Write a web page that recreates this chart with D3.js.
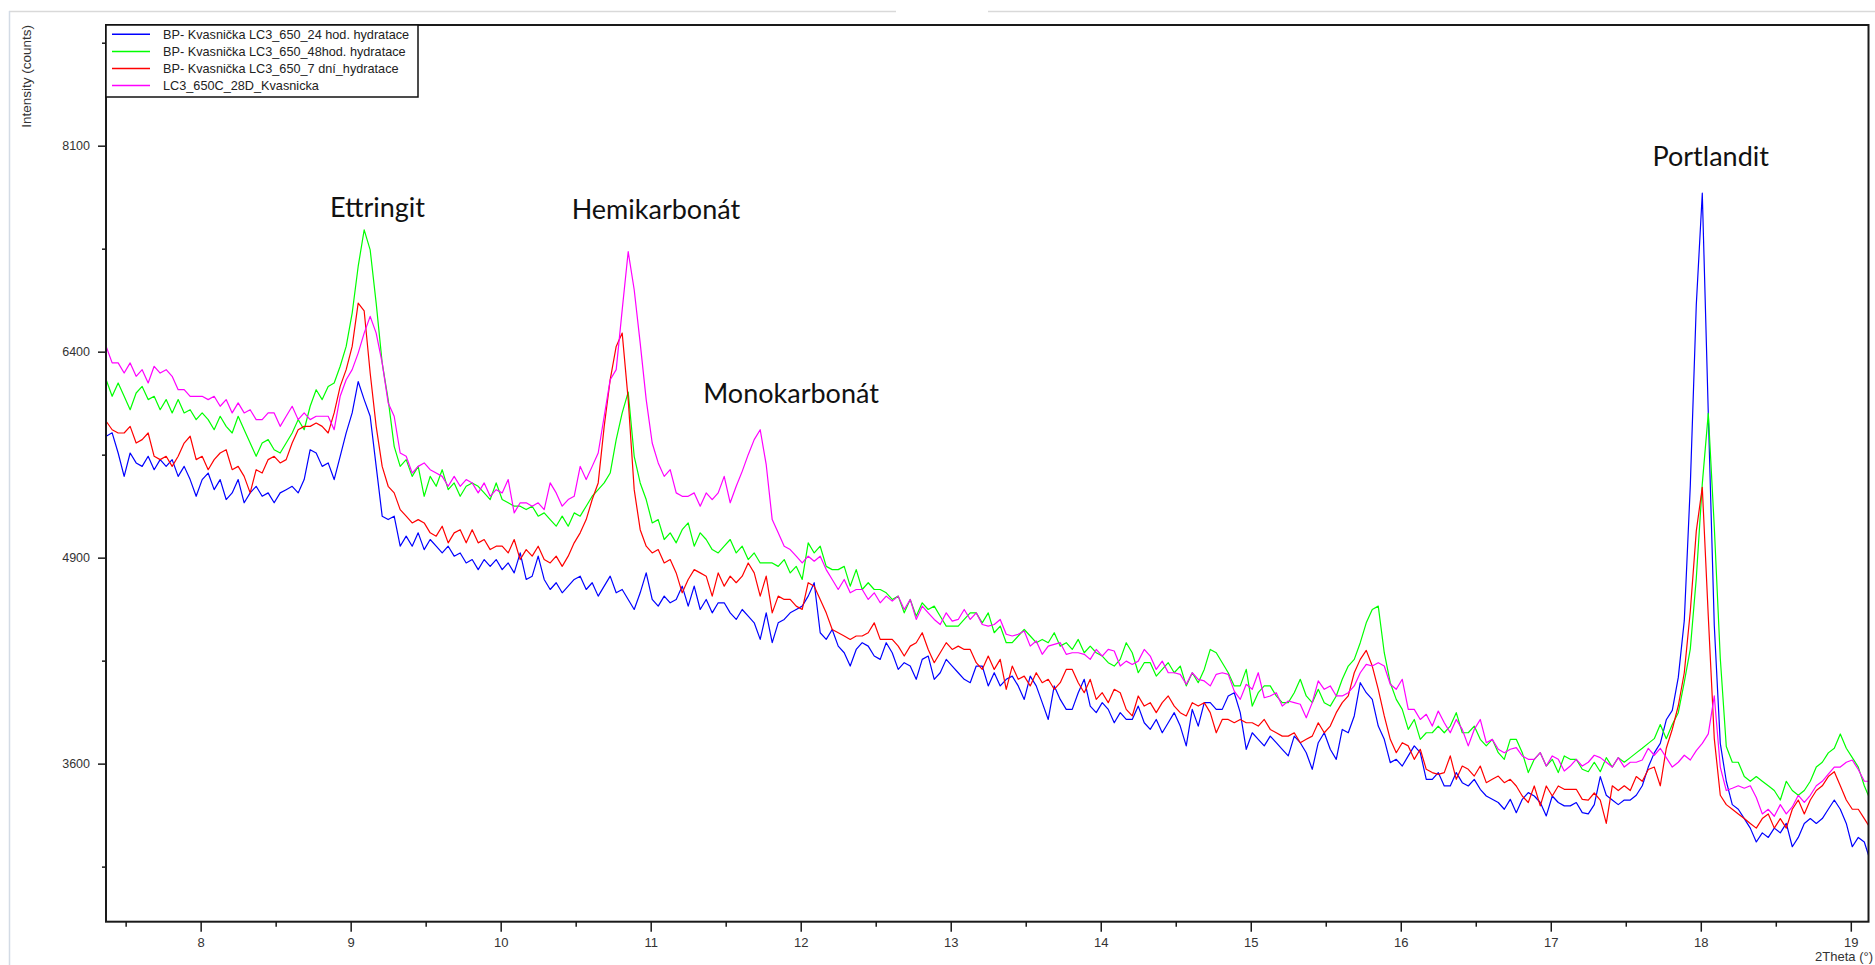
<!DOCTYPE html>
<html>
<head>
<meta charset="utf-8">
<script src="https://cdn.jsdelivr.net/npm/d3@7"></script>
<style>
  html, body { margin: 0; padding: 0; background: #ffffff; }
  svg { display: block; }
</style>
</head>
<body>
<svg id="chart" width="1875" height="965"></svg>
<script>
// XRD scans: first 2θ point and scan step (degrees)
const scanStart = 7.37;
const scanStep = 0.04;

const seriesNames = [
  "BP- Kvasnička LC3_650_24 hod. hydratace",
  "BP- Kvasnička LC3_650_48hod. hydratace",
  "BP- Kvasnička LC3_650_7 dní_hydratace",
  "LC3_650C_28D_Kvasnicka"
];

// Intensity (counts), one value per scan step
const counts24h = [
  5760,5785,5637,5468,5637,5565,5540,5613,5516,5589,
  5540,5589,5468,5540,5445,5326,5445,5492,5373,5445,
  5303,5350,5445,5280,5350,5397,5326,5350,5280,5350,
  5373,5397,5350,5445,5661,5637,5540,5565,5445,5613,
  5785,5933,6170,6033,5908,5540,5186,5162,5186,4978,
  5047,4978,5070,4955,5024,4978,4932,4978,4910,4932,
  4864,4887,4819,4887,4841,4887,4819,4864,4797,4932,
  4753,4775,4910,4753,4686,4731,4664,4708,4753,4775,
  4686,4731,4642,4708,4775,4664,4686,4620,4554,4664,
  4797,4620,4576,4642,4598,4620,4708,4576,4708,4554,
  4620,4532,4598,4598,4532,4489,4554,4510,4467,4360,
  4532,4339,4467,4489,4532,4554,4576,4642,4731,4403,
  4360,4424,4317,4275,4191,4296,4339,4317,4254,4233,
  4339,4275,4170,4212,4191,4108,4233,4254,4108,4149,
  4233,4191,4149,4108,4087,4191,4191,4067,4149,4067,
  4108,4128,4067,3984,4128,4067,3964,3862,4067,3984,
  3923,3923,4025,4108,3943,3903,3964,3923,3842,3903,
  3862,3862,3943,3842,3802,3862,3782,3842,3903,3822,
  3704,3923,3822,3964,3964,3923,3923,4005,4025,3903,
  3684,3782,3743,3704,3762,3723,3684,3645,3762,3723,
  3664,3567,3723,3782,3684,3625,3802,3782,3883,4087,
  4025,3984,3822,3743,3606,3625,3586,3645,3704,3664,
  3509,3509,3548,3471,3471,3548,3490,3471,3509,3452,
  3414,3395,3377,3339,3395,3320,3395,3433,3414,3377,
  3302,3414,3377,3358,3358,3377,3320,3313,3365,3525,
  3418,3391,3365,3391,3391,3418,3472,3580,3663,3719,
  3860,3917,4120,4481,5400,6767,7690,5930,4450,3719,
  3498,3365,3339,3287,3234,3158,3208,3183,3234,3208,
  3260,3132,3183,3260,3287,3260,3287,3339,3391,3339,
  3260,3132,3183,3158,3056
];

const counts48h = [
  6184,6058,6159,6058,5957,6083,6133,6033,6058,5957,
  6033,5933,6033,5933,5957,5883,5933,5883,5808,5908,
  5833,5784,5908,5808,5710,5613,5710,5735,5661,5637,
  5710,5784,5883,5808,5983,6108,6033,6133,6159,6287,
  6441,6703,7079,7381,7215,6783,6313,6033,5686,5540,
  5589,5468,5540,5326,5468,5397,5516,5373,5421,5326,
  5397,5421,5397,5350,5303,5421,5303,5280,5256,5256,
  5232,5256,5186,5209,5162,5116,5186,5116,5209,5186,
  5256,5326,5373,5421,5492,5735,5933,6090,5613,5421,
  5303,5139,5162,5024,5070,5001,5092,5139,4978,5070,
  5024,4955,4932,4978,5024,4932,4978,4887,4932,4864,
  4864,4864,4841,4887,4797,4841,4753,5001,4932,4978,
  4841,4819,4819,4841,4708,4819,4686,4731,4686,4686,
  4664,4620,4642,4532,4620,4510,4598,4554,4576,4510,
  4446,4446,4446,4489,4532,4532,4467,4532,4403,4446,
  4339,4339,4382,4424,4382,4339,4360,4339,4403,4317,
  4339,4296,4360,4275,4317,4275,4254,4212,4191,4233,
  4339,4275,4149,4212,4212,4128,4170,4212,4149,4191,
  4067,4149,4087,4170,4296,4275,4212,4149,4067,4067,
  4170,3943,4025,4067,4067,4005,3964,3964,4025,4108,
  4005,3964,4046,3964,3943,4005,4108,4191,4233,4339,
  4467,4554,4576,4275,4087,3984,3923,3802,3862,3743,
  3782,3782,3822,3782,3822,3903,3782,3782,3822,3743,
  3704,3743,3664,3625,3743,3743,3664,3548,3625,3664,
  3586,3625,3548,3645,3625,3625,3567,3553,3608,3553,
  3635,3580,3635,3608,3635,3663,3690,3719,3747,3831,
  3747,3831,3903,4091,4298,4760,5414,5930,5110,4240,
  3700,3608,3608,3525,3498,3525,3498,3472,3445,3391,
  3498,3445,3418,3445,3498,3580,3608,3663,3690,3775,
  3690,3635,3580,3472,3391
];

const counts7d = [
  5871,5808,5784,5784,5833,5710,5735,5784,5613,5589,
  5613,5540,5613,5710,5760,5589,5613,5516,5589,5637,
  5661,5516,5540,5468,5350,5516,5492,5589,5613,5565,
  5589,5710,5808,5833,5833,5858,5833,5784,5933,6133,
  6261,6441,6783,6720,6235,5833,5540,5397,5350,5232,
  5186,5139,5162,5139,5070,5047,5116,5001,5070,5092,
  5001,5092,5001,5024,4955,4978,4978,4932,5024,4887,
  4955,4910,4978,4887,4864,4910,4841,4910,5001,5070,
  5162,5303,5421,5833,6184,6441,6545,6033,5373,5092,
  4978,4932,4955,4864,4887,4797,4664,4753,4819,4797,
  4775,4642,4797,4708,4775,4731,4775,4864,4797,4642,
  4775,4532,4642,4620,4620,4576,4554,4731,4708,4620,
  4532,4424,4403,4382,4360,4382,4382,4403,4467,4360,
  4360,4360,4317,4254,4317,4339,4403,4296,4212,4275,
  4339,4296,4317,4296,4296,4212,4170,4254,4170,4233,
  4046,4191,4108,4128,4067,4149,4087,4108,4046,4087,
  4170,4170,4087,4025,4108,3984,4025,3964,4046,4025,
  3923,3883,4005,3943,3964,3903,3964,4005,3943,3903,
  3883,3964,3943,3964,3903,3782,3862,3862,3842,3862,
  3842,3842,3822,3862,3802,3782,3762,3762,3782,3723,
  3743,3762,3842,3782,3822,3903,3964,4005,4149,4233,
  4290,4191,4046,3883,3743,3664,3723,3704,3625,3684,
  3567,3548,3538,3548,3645,3509,3586,3567,3528,3586,
  3490,3509,3528,3490,3509,3471,3414,3377,3471,3358,
  3471,3414,3471,3452,3452,3452,3395,3391,3431,3391,
  3260,3472,3445,3472,3445,3525,3498,3566,3580,3472,
  3690,3803,3945,4149,4541,5082,5390,4510,3747,3418,
  3365,3339,3313,3287,3260,3234,3287,3313,3234,3287,
  3234,3339,3391,3313,3391,3445,3472,3525,3553,3472,
  3391,3339,3339,3287,3234
];

const counts28d = [
  6441,6313,6313,6235,6313,6210,6261,6159,6287,6235,
  6261,6210,6108,6108,6058,6058,6058,6033,6058,5983,
  6033,5933,6008,5933,5957,5883,5883,5933,5933,5833,
  5908,5983,5883,5933,5883,5908,5908,5908,5808,6058,
  6184,6261,6389,6545,6677,6545,6313,6008,5908,5637,
  5613,5492,5540,5565,5516,5492,5468,5397,5468,5397,
  5445,5421,5350,5421,5326,5373,5350,5445,5209,5280,
  5280,5256,5280,5232,5421,5350,5256,5303,5326,5540,
  5445,5540,5637,5908,6184,6261,6729,7200,6890,6467,
  6033,5710,5565,5468,5516,5350,5326,5326,5350,5256,
  5350,5303,5350,5468,5280,5397,5504,5625,5735,5808,
  5552,5162,5070,4978,4955,4910,4864,4910,4876,4910,
  4819,4753,4686,4753,4664,4686,4686,4620,4664,4598,
  4642,4609,4642,4554,4620,4489,4576,4532,4489,4456,
  4532,4478,4489,4554,4489,4532,4456,4446,4456,4489,
  4393,4382,4393,4414,4317,4350,4265,4317,4328,4339,
  4265,4275,4275,4265,4233,4296,4254,4296,4286,4191,
  4222,4201,4222,4296,4254,4170,4222,4149,4149,4139,
  4077,4149,4108,4098,4067,4139,4149,4139,4035,3984,
  4077,4046,4149,3994,4005,4025,3943,3974,3964,3954,
  3872,3964,4098,4046,4067,4005,4005,4025,4067,4149,
  4201,4191,4212,4191,4077,4046,4108,3923,3923,3862,
  3893,3822,3913,3842,3782,3862,3802,3704,3802,3862,
  3723,3743,3684,3664,3684,3694,3645,3625,3625,3664,
  3586,3645,3625,3557,3586,3625,3586,3608,3649,3635,
  3608,3580,3635,3580,3608,3608,3621,3690,3649,3690,
  3635,3580,3608,3649,3621,3676,3719,3775,4005,3580,
  3445,3458,3472,3458,3472,3405,3313,3339,3300,3365,
  3313,3352,3418,3378,3418,3472,3498,3539,3580,3580,
  3608,3621,3566,3498,3498
];

const seriesValues = [counts24h, counts48h, counts7d, counts28d];
const lineColors = ["#0000ff", "#00ff00", "#ff0000", "#ff00ff"];

// Axis ticks
const xMajorTicks = [8, 9, 10, 11, 12, 13, 14, 15, 16, 17, 18, 19];
const xMinorTicks = [7.5, 8.5, 9.5, 10.5, 11.5, 12.5, 13.5, 14.5, 15.5, 16.5, 17.5, 18.5];
const yMajorTicks = [3600, 4900, 6400, 8100];
const yMinorTicks = [3025, 4225, 5625, 7225, 9025];

// Phase names
const phaseNames = ["Ettringit", "Hemikarbonát", "Monokarbonát", "Portlandit"];

// ---------------------------------------------------------------------------
const svg = d3.select("#chart");
const plot = { left: 106, top: 25, right: 1868.5, bottom: 921.7 };

const x = d3.scaleLinear().domain([7.369, 19.118]).range([plot.left, plot.right]);
const y = d3.scaleSqrt().domain([2738, 9189]).range([plot.bottom, plot.top]);

const textFont = "'Liberation Sans', Arial, sans-serif";

// window edges around the graph
svg.append("line").attr("x1", 9).attr("x2", 896).attr("y1", 11.5).attr("y2", 11.5)
  .attr("stroke", "#d9d9d9").attr("stroke-width", 1.5);
svg.append("line").attr("x1", 988).attr("x2", 1875).attr("y1", 11.5).attr("y2", 11.5)
  .attr("stroke", "#d9d9d9").attr("stroke-width", 1.5);
svg.append("line").attr("x1", 9.5).attr("x2", 9.5).attr("y1", 11).attr("y2", 965)
  .attr("stroke", "#d3dbe5").attr("stroke-width", 1.5);

svg.append("defs").append("clipPath").attr("id", "plot-clip")
  .append("rect")
  .attr("x", plot.left).attr("y", plot.top)
  .attr("width", plot.right - plot.left).attr("height", plot.bottom - plot.top);

// diffraction patterns
const line = d3.line()
  .x((d, i) => x(scanStart + i * scanStep))
  .y(d => y(d));

const lines = svg.append("g").attr("clip-path", "url(#plot-clip)");
seriesValues.forEach((vals, k) => {
  lines.append("path")
    .datum(vals)
    .attr("d", line)
    .attr("fill", "none")
    .attr("stroke", lineColors[k])
    .attr("stroke-width", 1.2)
    .attr("stroke-linejoin", "round");
});

// axes
function styleAxis(g) {
  g.select(".domain").remove();
  g.selectAll(".tick line").attr("stroke", "#1a1a1a").attr("stroke-width", 1.5);
  g.selectAll(".tick text").attr("fill", "#333").attr("font-family", textFont);
}

svg.append("g")
  .attr("transform", `translate(0,${plot.bottom})`)
  .call(d3.axisBottom(x).tickValues(xMinorTicks).tickSize(5).tickFormat(""))
  .call(styleAxis);
svg.append("g")
  .attr("transform", `translate(0,${plot.bottom})`)
  .call(d3.axisBottom(x).tickValues(xMajorTicks).tickSize(10).tickPadding(6).tickFormat(d3.format("d")))
  .call(styleAxis)
  .call(g => g.selectAll(".tick text").attr("font-size", 13));

svg.append("g")
  .attr("transform", `translate(${plot.left},0)`)
  .call(d3.axisLeft(y).tickValues(yMinorTicks).tickSize(4).tickFormat(""))
  .call(styleAxis);
svg.append("g")
  .attr("transform", `translate(${plot.left},0)`)
  .call(d3.axisLeft(y).tickValues(yMajorTicks).tickSize(8).tickPadding(8).tickFormat(d3.format("d")))
  .call(styleAxis)
  .call(g => g.selectAll(".tick text").attr("font-size", 12.5));

// plot frame
svg.append("rect")
  .attr("x", plot.left).attr("y", plot.top)
  .attr("width", plot.right - plot.left).attr("height", plot.bottom - plot.top)
  .attr("fill", "none").attr("stroke", "#1a1a1a").attr("stroke-width", 2);

// axis titles
svg.append("text")
  .attr("transform", `translate(31,${plot.top}) rotate(-90)`)
  .attr("text-anchor", "end")
  .attr("font-family", textFont).attr("font-size", 13.5).attr("fill", "#333")
  .text("Intensity (counts)");

svg.append("text")
  .attr("x", 1873).attr("y", 961)
  .attr("text-anchor", "end")
  .attr("font-family", textFont).attr("font-size", 13).attr("fill", "#333")
  .text("2Theta (°)");

// legend
const legend = svg.append("g");
legend.append("rect")
  .attr("x", plot.left).attr("y", plot.top)
  .attr("width", 312).attr("height", 72)
  .attr("fill", "#fff").attr("stroke", "#111").attr("stroke-width", 1.5);
seriesNames.forEach((name, k) => {
  const ry = 34.3 + k * 17.1;
  legend.append("line")
    .attr("x1", 112).attr("x2", 150).attr("y1", ry).attr("y2", ry)
    .attr("stroke", lineColors[k]).attr("stroke-width", 1.5);
  legend.append("text")
    .attr("x", 163).attr("y", ry + 4.5)
    .attr("font-family", textFont).attr("font-size", 12.7).attr("fill", "#222")
    .text(name);
});

// phase annotations, placed in data coordinates
const phaseAnchors = [
  { theta: 8.862, counts: 7489 },
  { theta: 10.473, counts: 7470 },
  { theta: 11.350, counts: 6005 },
  { theta: 17.678, counts: 7923 }
];
phaseNames.forEach((name, k) => {
  svg.append("text")
    .attr("x", x(phaseAnchors[k].theta))
    .attr("y", y(phaseAnchors[k].counts))
    .attr("font-family", "Lato, 'Open Sans', sans-serif")
    .attr("font-size", 27)
    .attr("fill", "#111")
    .text(name);
});
</script>
</body>
</html>
